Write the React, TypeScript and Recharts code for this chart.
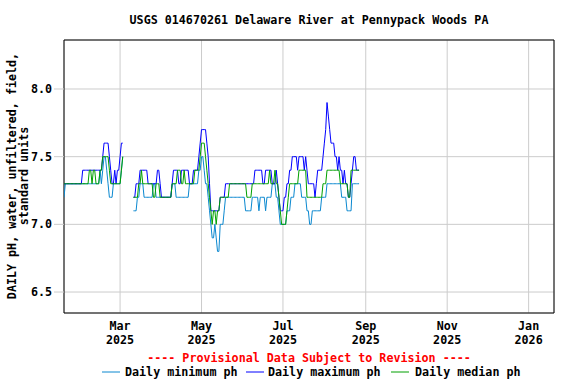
import { LineChart, Line, XAxis, YAxis, CartesianGrid, ReferenceArea } from "recharts";

// daily values from Jan 18 2025, null = no data
const startDate = Date.UTC(2025, 0, 18);
const DAY = 86400000;

const maxPh = [
  7.3, 7.3, 7.3, 7.3, 7.3, 7.3, 7.3, 7.3, 7.3, 7.3,
  7.3, 7.3, 7.3, 7.3, 7.4, 7.4, 7.4, 7.4, 7.4, 7.4,
  7.4, 7.4, 7.4, 7.4, 7.4, 7.4, 7.4, 7.4, 7.4, 7.5,
  7.6, 7.6, 7.6, 7.6, 7.5, 7.4, 7.3, 7.3, 7.4, 7.3,
  7.4, 7.4, 7.5, 7.6, 7.6, null, null, null, null, null,
  null, null, 7.2, 7.2, 7.3, 7.3, 7.3, 7.4, 7.4, 7.4,
  7.4, 7.4, 7.4, 7.3, 7.3, 7.3, 7.3, 7.3, 7.3, 7.3,
  7.4, 7.4, 7.3, 7.2, 7.2, 7.2, 7.2, 7.2, 7.2, 7.2,
  7.2, 7.3, 7.4, 7.4, 7.4, 7.4, 7.3, 7.3, 7.4, 7.4,
  7.4, 7.4, 7.4, 7.4, 7.3, 7.3, 7.3, 7.4, 7.4, 7.4,
  7.4, 7.5, 7.6, 7.7, 7.7, 7.7, 7.7, 7.6, 7.5, 7.3,
  7.1, 7.1, 7.1, 7.1, 7.1, 7.1, 7.1, 7.2, 7.2, 7.2,
  7.2, 7.3, 7.3, 7.3, 7.3, 7.3, 7.3, 7.3, 7.3, 7.3,
  7.3, 7.3, 7.3, 7.3, 7.3, 7.3, 7.3, 7.3, 7.3, 7.3,
  7.3, 7.3, 7.3, 7.4, 7.4, 7.4, 7.4, 7.4, 7.4, 7.3,
  7.3, 7.4, 7.4, 7.4, 7.4, 7.4, 7.3, 7.3, 7.3, 7.4,
  7.3, 7.2, 7.1, 7.1, 7.1, 7.2, 7.2, 7.3, 7.3, 7.4,
  7.4, 7.5, 7.5, 7.5, 7.5, 7.4, 7.5, 7.5, 7.5, 7.5,
  7.4, 7.5, 7.4, 7.3, 7.3, 7.3, 7.3, 7.3, 7.2, 7.3,
  7.4, 7.4, 7.4, 7.4, 7.5, 7.6, 7.7, 7.9, 7.8, 7.7,
  7.6, 7.6, 7.6, 7.5, 7.5, 7.4, 7.5, 7.4, 7.4, 7.3,
  7.4, 7.3, 7.3, 7.2, 7.2, 7.3, 7.4, 7.5, 7.5, 7.4,
  7.4, 7.4,
];

const medianPh = [
  7.3, 7.3, 7.3, 7.3, 7.3, 7.3, 7.3, 7.3, 7.3, 7.3,
  7.3, 7.3, 7.3, 7.3, 7.3, 7.3, 7.3, 7.3, 7.3, 7.4,
  7.4, 7.3, 7.4, 7.4, 7.3, 7.3, 7.3, 7.4, 7.4, 7.5,
  7.5, 7.5, 7.5, 7.5, 7.4, 7.3, 7.3, 7.3, 7.3, 7.3,
  7.3, 7.3, 7.3, 7.4, 7.5, null, null, null, null, null,
  null, null, 7.2, 7.2, 7.2, 7.2, 7.3, 7.3, 7.4, 7.3,
  7.3, 7.3, 7.3, 7.3, 7.3, 7.3, 7.3, 7.2, 7.2, 7.3,
  7.3, 7.3, 7.2, 7.2, 7.2, 7.2, 7.2, 7.2, 7.2, 7.2,
  7.2, 7.3, 7.3, 7.3, 7.3, 7.4, 7.4, 7.4, 7.3, 7.3,
  7.4, 7.3, 7.3, 7.3, 7.3, 7.3, 7.3, 7.3, 7.4, 7.4,
  7.4, 7.4, 7.5, 7.6, 7.6, 7.6, 7.5, 7.4, 7.3, 7.2,
  7.1, 7.0, 7.1, 7.1, 7.0, 7.1, 7.1, 7.2, 7.2, 7.2,
  7.2, 7.2, 7.2, 7.2, 7.3, 7.3, 7.3, 7.3, 7.3, 7.3,
  7.3, 7.3, 7.3, 7.3, 7.3, 7.3, 7.3, 7.2, 7.2, 7.2,
  7.2, 7.3, 7.3, 7.3, 7.3, 7.3, 7.3, 7.3, 7.3, 7.3,
  7.3, 7.3, 7.3, 7.3, 7.4, 7.3, 7.3, 7.3, 7.4, 7.3,
  7.3, 7.2, 7.1, 7.0, 7.0, 7.0, 7.0, 7.1, 7.2, 7.3,
  7.3, 7.3, 7.3, 7.3, 7.3, 7.3, 7.4, 7.4, 7.4, 7.4,
  7.4, 7.4, 7.2, 7.2, 7.2, 7.2, 7.2, 7.2, 7.2, 7.2,
  7.2, 7.2, 7.2, 7.2, 7.3, 7.3, 7.3, 7.4, 7.4, 7.4,
  7.4, 7.4, 7.4, 7.4, 7.4, 7.4, 7.4, 7.3, 7.3, 7.3,
  7.3, 7.3, 7.3, 7.2, 7.2, 7.4, 7.4, 7.4, 7.4, 7.4,
  7.4, 7.4,
];

const minPh = [
  7.2, 7.3, 7.3, 7.3, 7.3, 7.3, 7.3, 7.3, 7.3, 7.3,
  7.3, 7.3, 7.3, 7.3, 7.3, 7.3, 7.3, 7.3, 7.3, 7.3,
  7.3, 7.3, 7.3, 7.3, 7.3, 7.3, 7.3, 7.4, 7.3, 7.4,
  7.5, 7.5, 7.4, 7.3, 7.2, 7.2, 7.2, 7.3, 7.3, 7.3,
  7.3, 7.3, 7.3, 7.4, 7.5, null, null, null, null, null,
  null, null, 7.1, 7.1, 7.1, 7.2, 7.2, 7.3, 7.3, 7.3,
  7.2, 7.2, 7.2, 7.2, 7.2, 7.2, 7.2, 7.3, 7.3, 7.2,
  7.2, 7.2, 7.2, 7.2, 7.2, 7.2, 7.2, 7.2, 7.2, 7.2,
  7.2, 7.3, 7.3, 7.3, 7.2, 7.2, 7.2, 7.2, 7.2, 7.2,
  7.2, 7.2, 7.2, 7.2, 7.3, 7.3, 7.3, 7.3, 7.3, 7.3,
  7.3, 7.4, 7.4, 7.5, 7.5, 7.4, 7.3, 7.3, 7.2, 7.1,
  7.0, 6.9, 6.9, 7.0, 6.9, 6.8, 6.8, 7.0, 7.0, 7.0,
  7.1, 7.2, 7.2, 7.2, 7.2, 7.2, 7.2, 7.2, 7.2, 7.2,
  7.2, 7.2, 7.2, 7.2, 7.2, 7.2, 7.1, 7.1, 7.1, 7.1,
  7.1, 7.2, 7.2, 7.2, 7.2, 7.2, 7.1, 7.2, 7.2, 7.2,
  7.2, 7.1, 7.2, 7.2, 7.2, 7.2, 7.3, 7.3, 7.3, 7.2,
  7.2, 7.1, 7.0, 7.0, 7.0, 7.0, 7.0, 7.1, 7.1, 7.1,
  7.2, 7.2, 7.2, 7.3, 7.3, 7.3, 7.3, 7.3, 7.2, 7.2,
  7.2, 7.2, 7.1, 7.1, 7.0, 7.0, 7.1, 7.1, 7.1, 7.1,
  7.1, 7.1, 7.1, 7.2, 7.2, 7.2, 7.2, 7.3, 7.3, 7.3,
  7.3, 7.3, 7.3, 7.3, 7.3, 7.3, 7.3, 7.3, 7.2, 7.2,
  7.2, 7.2, 7.1, 7.1, 7.1, 7.1, 7.3, 7.3, 7.3, 7.3,
  7.3, 7.3,
];

const xTicks = [
  Date.UTC(2025, 2, 1),
  Date.UTC(2025, 4, 1),
  Date.UTC(2025, 6, 1),
  Date.UTC(2025, 8, 1),
  Date.UTC(2025, 10, 1),
  Date.UTC(2026, 0, 1),
];
const monthNames = ["Jan", "Feb", "Mar", "Apr", "May", "Jun", "Jul", "Aug", "Sep", "Oct", "Nov", "Dec"];
const yTicks = [6.5, 7.0, 7.5, 8.0];

const xDomain = [startDate, Date.UTC(2026, 0, 20)];
const yDomain = [6.345, 8.362];

const data = maxPh.map((v, i) => ({
  t: startDate + i * DAY,
  max: v,
  median: medianPh[i],
  min: minPh[i],
}));

const FONT = "'DejaVu Sans Mono', monospace";
const FS = 11.7;
const MIN_COLOR = "#0a88d0";
const MAX_COLOR = "#0000ff";
const MED_COLOR = "#00a000";

function DateTick(props: any) {
  const { x, payload } = props;
  const d = new Date(payload.value);
  return (
    <text x={x} textAnchor="middle" fontFamily={FONT} fontWeight="bold" fontSize={FS} fill="#000">
      <tspan x={x} y={330}>{monthNames[d.getUTCMonth()]}</tspan>
      <tspan x={x} y={344}>{d.getUTCFullYear()}</tspan>
    </text>
  );
}

const txt = { fontFamily: FONT, fontWeight: "bold" as const, fontSize: FS };

export default function App() {
  return (
    <div style={{ position: "relative", width: 576, height: 384, background: "#fff" }}>
      <style>{`body{margin:0}`}</style>
      <LineChart width={576} height={384} data={data} margin={{ top: 40, right: 22, bottom: 0, left: 0 }}>
        <CartesianGrid stroke="#cccccc" />
        <XAxis
          dataKey="t"
          type="number"
          scale="linear"
          domain={xDomain}
          allowDataOverflow
          ticks={xTicks}
          interval={0}
          tick={<DateTick />}
          axisLine={false}
          tickLine={false}
          height={71}
        />
        <YAxis
          type="number"
          domain={yDomain}
          allowDataOverflow
          ticks={yTicks}
          interval={0}
          tickFormatter={(v: number) => v.toFixed(1)}
          tick={{ fill: "#000", ...txt }}
          axisLine={false}
          tickLine={{ stroke: "#cccccc" }}
          tickSize={10}
          width={64}
        />
        <ReferenceArea x1={xDomain[0]} x2={xDomain[1]} y1={yDomain[0]} y2={yDomain[1]} fill="none" stroke="#000" strokeWidth={1} fillOpacity={0} />
        <Line dataKey="min" stroke={MIN_COLOR} strokeWidth={1} dot={false} isAnimationActive={false} connectNulls={false} />
        <Line dataKey="max" stroke={MAX_COLOR} strokeWidth={1} dot={false} isAnimationActive={false} connectNulls={false} />
        <Line dataKey="median" stroke={MED_COLOR} strokeWidth={1} dot={false} isAnimationActive={false} connectNulls={false} />
      </LineChart>
      <svg width={576} height={384} style={{ position: "absolute", left: 0, top: 0, pointerEvents: "none" }}>
        <text x={309} y={24} textAnchor="middle" {...txt}>
          USGS 014670261 Delaware River at Pennypack Woods PA
        </text>
        <text transform="translate(16,176) rotate(-90)" textAnchor="middle" {...txt}>
          DAILY pH, water, unfiltered, field,
        </text>
        <text transform="translate(28,176) rotate(-90)" textAnchor="middle" {...txt}>
          standard units
        </text>
        <text x={309} y={362} textAnchor="middle" {...txt} fill="#ff0000">
          ---- Provisional Data Subject to Revision ----
        </text>
        <line x1={102} x2={120} y1={372} y2={372} stroke={MIN_COLOR} />
        <text x={125} y={376} {...txt}>Daily minimum ph</text>
        <line x1={246} x2={264} y1={372} y2={372} stroke={MAX_COLOR} />
        <text x={268} y={376} {...txt}>Daily maximum ph</text>
        <line x1={391} x2={409} y1={372} y2={372} stroke={MED_COLOR} />
        <text x={415} y={376} {...txt}>Daily median ph</text>
      </svg>
    </div>
  );
}
